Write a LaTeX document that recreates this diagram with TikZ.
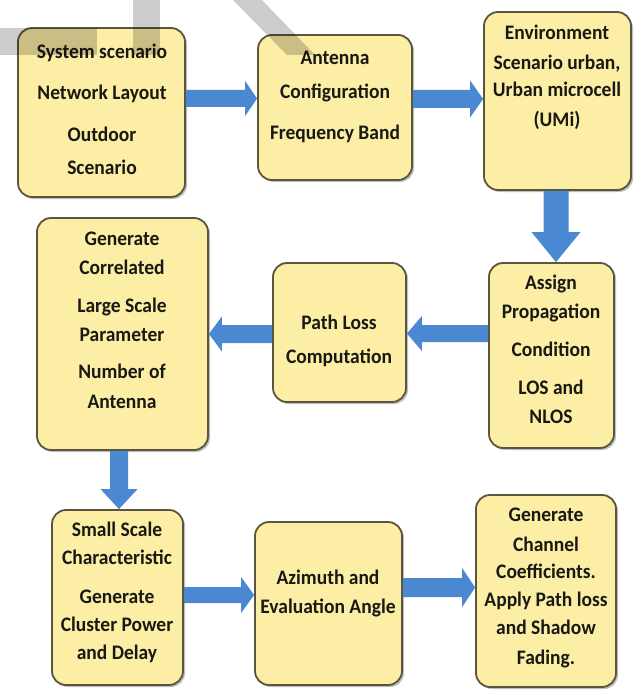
\documentclass[tikz,border=0pt]{standalone}
\usepackage{fontspec}
\setmainfont{Carlito}
\usetikzlibrary{calc,shadows}
\definecolor{boxfill}{RGB}{253,238,166}
\definecolor{boxline}{RGB}{90,85,60}
\definecolor{arrowblue}{RGB}{74,137,210}
\definecolor{txtcol}{RGB}{25,25,20}
% #1 start, #2 end (tip), #3 half shaft, #4 half head, #5 head length
\newcommand\blockarr[5]{%
  \coordinate (hb) at ($(#2)!#5!(#1)$);
  \fill[arrowblue] ($(#1)!#3!90:(#2)$) -- ($(hb)!#3!90:(#2)$) -- ($(hb)!#4!90:(#2)$) -- (#2)
     -- ($(hb)!#4!-90:(#2)$) -- ($(hb)!#3!-90:(#2)$) -- ($(#1)!#3!-90:(#2)$) -- cycle;}
\begin{document}
\begin{tikzpicture}[x=1pt,y=-1pt,
  box/.style={rectangle, rounded corners=14pt, draw=boxline, line width=1.8pt, fill=boxfill,
    drop shadow={shadow xshift=2pt,shadow yshift=-2pt,fill=black,opacity=0.25}},
  txt/.style={font=\bfseries\fontsize{19.5}{23}\selectfont, text=txtcol, anchor=mid, inner sep=0pt, yscale=1.06},
  wm/.style={fill=black, opacity=0.2}]
\fill[white] (0,0) rectangle (634,695);
\useasboundingbox (0,0) rectangle (634,695);

% boxes
\node[box, minimum width=167pt, minimum height=169pt] (b1) at (101.5,112.5) {};
\node[box, minimum width=154pt, minimum height=145pt] (b2) at (335,107.5) {};
\node[box, minimum width=147pt, minimum height=178pt] (b3) at (557.5,101) {};
\node[box, minimum width=125pt, minimum height=185pt] (b4) at (551.5,355.5) {};
\node[box, minimum width=133pt, minimum height=139pt] (b5) at (339.5,332.5) {};
\node[box, minimum width=171pt, minimum height=232pt] (b6) at (122.5,334) {};
\node[box, minimum width=131pt, minimum height=175pt] (b7) at (117.5,597.5) {};
\node[box, minimum width=147pt, minimum height=163pt] (b8) at (328.5,603.5) {};
\node[box, minimum width=140pt, minimum height=192pt] (b9) at (546,591) {};

% texts
\foreach \yy/\lab [count=\i] in {56/System scenario,97/Network Layout,139/Outdoor,172/Scenario}
  \node[txt] (t1-\i) at (102,\yy) {\lab};
\foreach \yy/\lab [count=\i] in {62/Antenna,96/Configuration,137/Frequency Band}
  \node[txt] (t2-\i) at (335,\yy) {\lab};
\foreach \yy/\lab [count=\i] in {37/Environment,67/{Scenario urban,},94/Urban microcell,124/(UMi)}
  \node[txt] (t3-\i) at (557,\yy) {\lab};
\foreach \yy/\lab [count=\i] in {287/Assign,316/Propagation,354/Condition,392/LOS and,421/NLOS}
  \node[txt] (t4-\i) at (551,\yy) {\lab};
\foreach \yy/\lab [count=\i] in {327/Path Loss,361/Computation}
  \node[txt] (t5-\i) at (339,\yy) {\lab};
\foreach \yy/\lab [count=\i] in {243/Generate,272/Correlated,310/Large Scale,339/Parameter,376/Number of,406/Antenna}
  \node[txt] (t6-\i) at (122,\yy) {\lab};
\foreach \yy/\lab [count=\i] in {534/Small Scale,562/Characteristic,601/Generate,629/Cluster Power,657/and Delay}
  \node[txt] (t7-\i) at (117,\yy) {\lab};
\foreach \yy/\lab [count=\i] in {582/Azimuth and,611/Evaluation Angle}
  \node[txt] (t8-\i) at (328,\yy) {\lab};
\foreach \yy/\lab [count=\i] in {519/Generate,549/Channel,576/Coefficients.,604/Apply Path loss,632/and Shadow,662/Fading.}
  \node[txt] (t9-\i) at (546,\yy) {\lab};

% arrow levels
\coordinate (y1) at (0,98.5);
\coordinate (y2) at (0,99);
\coordinate (x3) at (556,0);
\coordinate (y4) at (0,333.5);
\coordinate (y5) at (0,334);
\coordinate (x6) at (119,0);
\coordinate (y7) at (0,595);
\coordinate (y8) at (0,587.5);

\coordinate (a1s) at (b1.east |- y1); \coordinate (a1e) at (b2.west |- y1);
\coordinate (a2s) at (b2.east |- y2); \coordinate (a2e) at (b3.west |- y2);
\coordinate (a3s) at (b3.south -| x3); \coordinate (a3e) at (b4.north -| x3);
\coordinate (a4s) at (b4.west |- y4); \coordinate (a4e) at (b5.east |- y4);
\coordinate (a5s) at (b5.west |- y5); \coordinate (a5e) at (b6.east |- y5);
\coordinate (a6s) at (b6.south -| x6); \coordinate (a6e) at (b7.north -| x6);
\coordinate (a7s) at (b7.east |- y7); \coordinate (a7e) at (b8.west |- y7);
\coordinate (a8s) at (b8.east |- y8); \coordinate (a8e) at (b9.west |- y8);

\blockarr{a1s}{a1e}{8.5pt}{17.5pt}{12pt}
\blockarr{a2s}{a2e}{9pt}{18.5pt}{13pt}
\blockarr{a3s}{a3e}{12.5pt}{24.5pt}{30pt}
\blockarr{a4s}{a4e}{8.5pt}{17.5pt}{15pt}
\blockarr{a5s}{a5e}{9pt}{17.5pt}{13pt}
\blockarr{a6s}{a6e}{9pt}{18.5pt}{20pt}
\blockarr{a7s}{a7e}{8pt}{18pt}{13pt}
\blockarr{a8s}{a8e}{9.5pt}{19.5pt}{13pt}

% watermark
\fill[wm] (0,28) rectangle (97,55);
\fill[wm] (133,0) rectangle (160,55);
\fill[wm] (233,0) -- (262,0) -- (315,55) -- (287,55) -- cycle;
\end{tikzpicture}
\end{document}
